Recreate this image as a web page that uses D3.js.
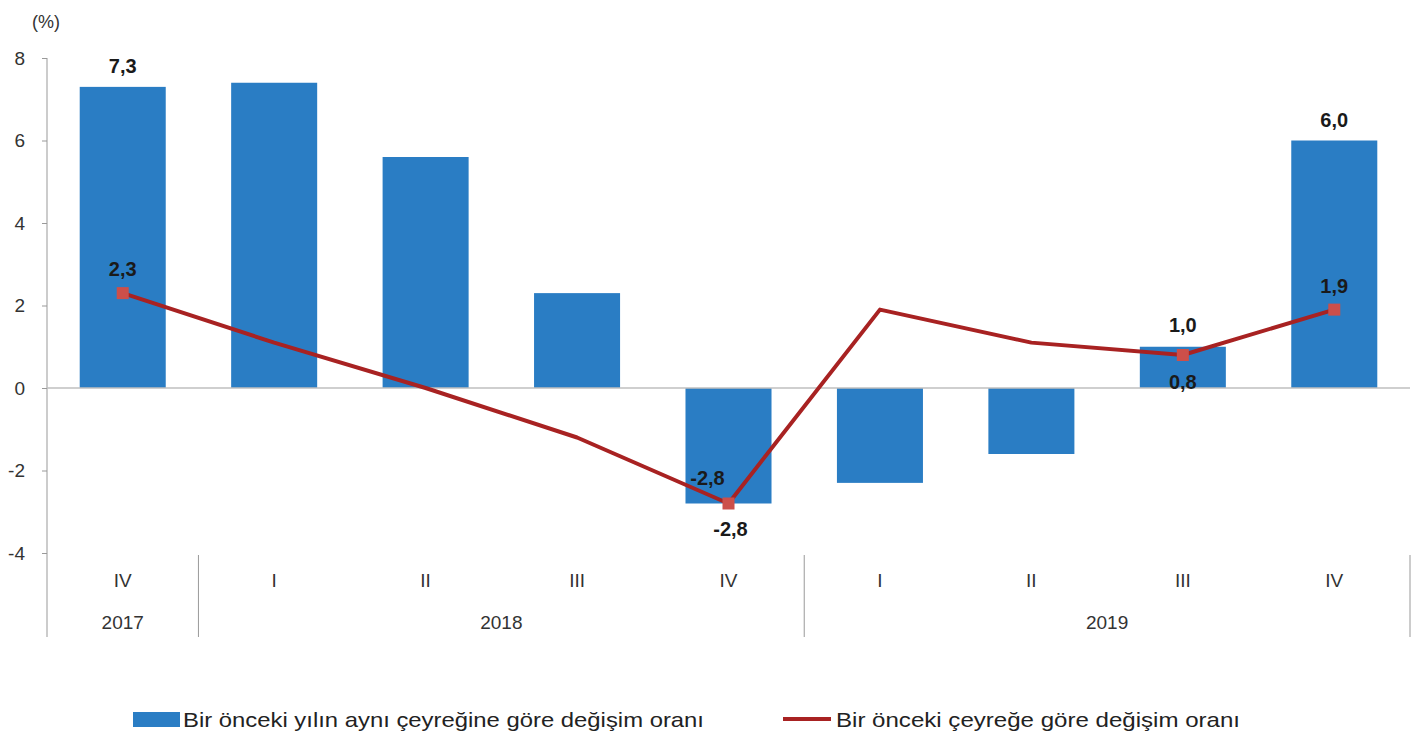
<!DOCTYPE html>
<html>
<head>
<meta charset="utf-8">
<script src="https://cdn.jsdelivr.net/npm/d3@7"></script>
<style>
  body { margin: 0; background: #fff; }
  svg { display: block; font-family: "Liberation Sans", Arial, sans-serif; }
  .tick text { fill: #333; font-size: 19px; }
  .cat { fill: #333; font-size: 19px; }
  .lbl { fill: #1a1a1a; font-size: 20px; font-weight: bold; }
  .leg { fill: #222; font-size: 21px; }
</style>
</head>
<body>
<svg id="chart" width="1423" height="740"></svg>
<script>
// quarters, 2017 Q4 .. 2019 Q4
const quarters = ['IV', 'I', 'II', 'III', 'IV', 'I', 'II', 'III', 'IV'];
const years = [
  { label: '2017', first: 0, last: 0 },
  { label: '2018', first: 1, last: 4 },
  { label: '2019', first: 5, last: 8 }
];
// yillik degisim (bars) and ceyreklik degisim (line)
const annualChange = [7.3, 7.4, 5.6, 2.3, -2.8, -2.3, -1.6, 1.0, 6.0];
const quarterlyChange = [2.3, 1.1, 0.0, -1.2, -2.8, 1.9, 1.1, 0.8, 1.9];
const yTicks = [-4, -2, 0, 2, 4, 6, 8];
// which points get a value label / marker
const labelled = [0, 4, 7, 8];
const legendNames = ['Bir önceki yılın aynı çeyreğine göre değişim oranı', 'Bir önceki çeyreğe göre değişim oranı'];

const barColor = '#2a7dc4';
const lineColor = '#a82222';
const markColor = '#cc4f4a';
const fmt = v => v.toFixed(1).replace('.', ',');

const svg = d3.select('#chart');
const plotLeft = 47, plotRight = 1410, plotTop = 58, plotBottom = 553, axisBottom = 637;

const x = d3.scaleBand()
  .domain(d3.range(quarters.length))
  .range([plotLeft, plotRight])
  .paddingInner(0.432)
  .paddingOuter(0.216);
const y = d3.scaleLinear().domain([-4, 8]).range([plotBottom, plotTop]);
const step = x.step();
const cx = i => x(i) + x.bandwidth() / 2;

// y axis
const yAxis = svg.append('g')
  .attr('transform', `translate(${plotLeft},0)`)
  .call(d3.axisLeft(y).tickValues(yTicks).tickSize(5).tickSizeOuter(0).tickPadding(17)
    .tickFormat(d => String(d)));
yAxis.select('.domain').remove();
yAxis.selectAll('.tick line').attr('stroke', '#999');
svg.append('line')
  .attr('x1', plotLeft).attr('x2', plotLeft)
  .attr('y1', y(8)).attr('y2', axisBottom)
  .attr('stroke', '#999');

svg.append('text')
  .attr('x', 46).attr('y', 28)
  .attr('text-anchor', 'middle')
  .attr('fill', '#333').attr('font-size', 18)
  .text('(%)');

// bars
svg.append('g').selectAll('rect')
  .data(annualChange)
  .join('rect')
  .attr('x', (d, i) => x(i))
  .attr('width', x.bandwidth())
  .attr('y', d => y(Math.max(0, d)))
  .attr('height', d => Math.abs(y(d) - y(0)))
  .attr('fill', barColor);

// zero line
svg.append('line')
  .attr('x1', plotLeft).attr('x2', plotRight)
  .attr('y1', y(0)).attr('y2', y(0))
  .attr('stroke', '#bfbfbf').attr('stroke-width', 1.5);

// category axis: quarters, years, separators
svg.append('g').selectAll('text')
  .data(quarters)
  .join('text')
  .attr('class', 'cat')
  .attr('x', (d, i) => cx(i))
  .attr('y', 587)
  .attr('text-anchor', 'middle')
  .text(d => d);

svg.append('g').selectAll('text')
  .data(years)
  .join('text')
  .attr('class', 'cat')
  .attr('x', d => (cx(d.first) + cx(d.last)) / 2)
  .attr('y', 629)
  .attr('text-anchor', 'middle')
  .text(d => d.label);

svg.append('g').selectAll('line')
  .data(years)
  .join('line')
  .attr('x1', d => x(d.last) + x.bandwidth() + step * 0.216)
  .attr('x2', d => x(d.last) + x.bandwidth() + step * 0.216)
  .attr('y1', plotBottom + 2)
  .attr('y2', axisBottom)
  .attr('stroke', '#999');

// line series
const line = d3.line().x((d, i) => cx(i)).y(d => y(d));
svg.append('path')
  .datum(quarterlyChange)
  .attr('d', line)
  .attr('fill', 'none')
  .attr('stroke', lineColor)
  .attr('stroke-width', 4)
  .attr('stroke-linejoin', 'round');

svg.append('g').selectAll('rect')
  .data(labelled)
  .join('rect')
  .attr('x', i => cx(i) - 6)
  .attr('y', i => y(quarterlyChange[i]) - 6)
  .attr('width', 12).attr('height', 12)
  .attr('fill', markColor);

// value labels
const barLabelDy = { 0: -14, 4: 32, 7: -15, 8: -14 };
const lineLabelPos = { 0: [0, -17], 4: [-21, -19], 7: [0, 34], 8: [0, -17] };
svg.append('g').selectAll('text')
  .data(labelled)
  .join('text')
  .attr('class', 'lbl')
  .attr('x', i => cx(i) + (i === 4 ? 2 : 0))
  .attr('y', i => y(annualChange[i]) + barLabelDy[i])
  .attr('text-anchor', 'middle')
  .text(i => fmt(annualChange[i]));

svg.append('g').selectAll('text')
  .data(labelled)
  .join('text')
  .attr('class', 'lbl')
  .attr('x', i => cx(i) + lineLabelPos[i][0])
  .attr('y', i => y(quarterlyChange[i]) + lineLabelPos[i][1])
  .attr('text-anchor', 'middle')
  .text(i => fmt(quarterlyChange[i]));

// legend
const leg = svg.append('g');
leg.append('rect').attr('x', 133).attr('y', 712).attr('width', 47).attr('height', 15).attr('fill', barColor);
leg.append('text').attr('class', 'leg').attr('x', 183).attr('y', 727)
  .attr('textLength', 521).attr('lengthAdjust', 'spacingAndGlyphs').text(legendNames[0]);
leg.append('line').attr('x1', 783).attr('x2', 831).attr('y1', 719).attr('y2', 719)
  .attr('stroke', lineColor).attr('stroke-width', 4);
leg.append('text').attr('class', 'leg').attr('x', 836).attr('y', 727)
  .attr('textLength', 404).attr('lengthAdjust', 'spacingAndGlyphs').text(legendNames[1]);
</script>
</body>
</html>
